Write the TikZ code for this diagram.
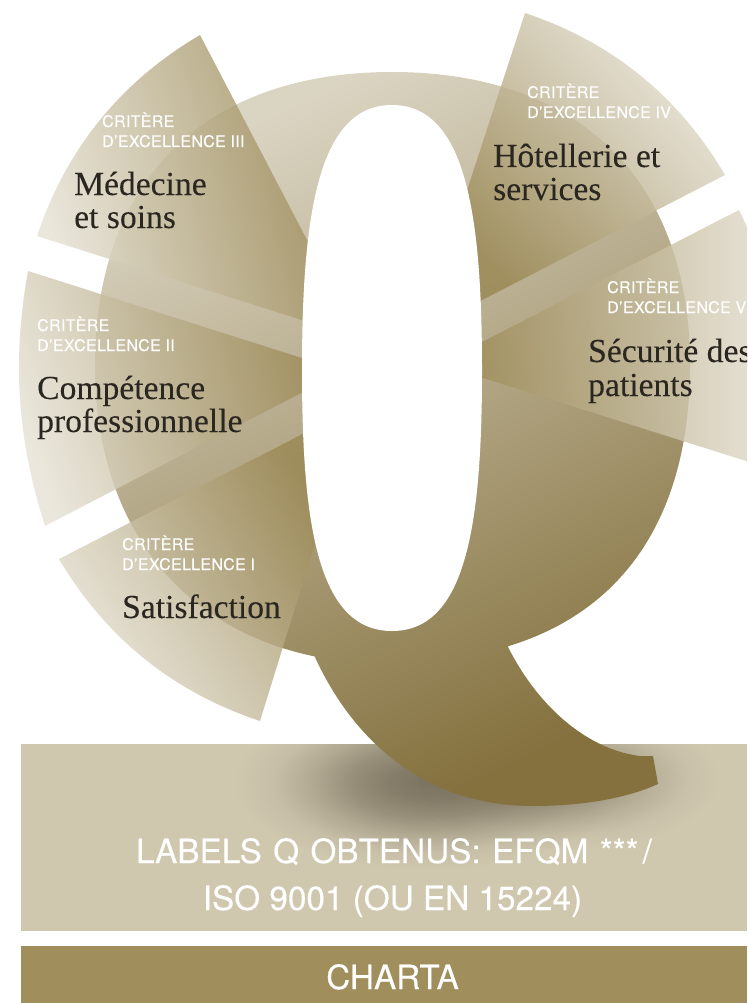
\documentclass[tikz,border=0pt]{standalone}
\usepackage{fontspec}
\usetikzlibrary{fadings}
\newfontfamily\hvfont[LetterSpace=2,FakeBold=.25]{TeX Gyre Heros}
\newfontfamily\hvbig[FakeBold=.25]{TeX Gyre Heros}
\newfontfamily\srffont[FakeBold=.12]{Liberation Serif}
\definecolor{bandlight}{HTML}{CFC7AE}
\definecolor{bandgold}{HTML}{A18E5D}
\definecolor{inkdark}{HTML}{2A2620}
\definecolor{secinner}{HTML}{9A8854}
\definecolor{secouter}{HTML}{E6E2D5}
\definecolor{qlight}{HTML}{DAD4C2}
\definecolor{qmid}{HTML}{A09162}
\definecolor{qdark}{HTML}{84713E}
\definecolor{shadowtone}{HTML}{5F5745}
\pgfdeclareradialshading{blobsh}{\pgfpointorigin}{gray(0bp)=(1);gray(5bp)=(.9);gray(10bp)=(.68);gray(15bp)=(.36);gray(20bp)=(.1);gray(25bp)=(0);gray(50bp)=(0)}
\pgfdeclarefading{blob}{\pgfuseshading{blobsh}}
\tikzset{
  sector/.style={shade,top color=secouter,bottom color=secinner,fill opacity=.82,draw=none},
  smalllabel/.style={anchor=base west,inner sep=0pt,text=white,font=\hvfont\fontsize{16}{20}\selectfont},
  titlelabel/.style={anchor=base west,inner sep=0pt,text=inkdark,font=\srffont\fontsize{33.6}{33}\selectfont},
  banner/.style={anchor=base,inner sep=0pt,text=white,font=\hvbig\fontsize{33.3}{40}\selectfont},
  arcbend/.style={bend left=20.5,looseness=.91}
}
\begin{document}
\begin{tikzpicture}[x=1pt,y=-1pt]
\useasboundingbox (0,0) rectangle (747,1003);
\clip (0,0) rectangle (747,1003);
% bands
\fill[bandlight] (21,744) rectangle (747,931);
\fill[bandgold] (21,946) rectangle (747,1003);
% shadow
\begin{scope}
\clip (21,744) rectangle (747,931);
\fill[shadowtone,path fading=blob,fit fading=true,fill opacity=.72] (235,695) rectangle (620,870);
\fill[shadowtone,path fading=blob,fit fading=true,fill opacity=.5] (400,705) rectangle (720,850);
\end{scope}
% the Q
\shade[top color=qlight,middle color=qmid,bottom color=qdark,shading angle=25]
  (95,365) .. controls (95,180) and (205,72) .. (392,72)
  .. controls (579,72) and (690,180) .. (690,365)
  .. controls (690,550) and (590,662) .. (392,662)
  -- (392,664) .. controls (210,664) and (95,550) .. (95,365) -- cycle
  (320,640) -- (508,630) -- (508,647)
  .. controls (540,710) and (590,750) .. (640,756)
  -- (653,756) -- (658,784)
  .. controls (625,799) and (580,806) .. (533,806)
  .. controls (420,806) and (350,735) .. (314,655) -- cycle;
% sectors
\path[sector,shading angle=108] (37,236) to[arcbend] (200,35) -- (330,284) -- (330,329) -- cycle;
\path[sector,shading angle=110] (45,526) to[arcbend,bend left=14] (28,271) -- (330,367) -- (330,378) -- cycle;
\path[sector,shading angle=122] (260,721) to[arcbend] (59,559) -- (330,420) -- (330,495) -- cycle;
\path[sector,shading angle=-48] (525,13) to[arcbend] (725,175) -- (455,314) -- (455,227) -- cycle;
\path[sector,shading angle=-90] (739,210) to[arcbend] (765,467) -- (455,369) -- (455,356) -- cycle;
% counter of the Q
\fill[white] (392,105) .. controls (318,105) and (302,215) .. (302,370)
  .. controls (302,525) and (318,631) .. (392,631)
  .. controls (466,631) and (482,525) .. (482,370)
  .. controls (482,215) and (466,105) .. (392,105) -- cycle;
% labels
\node[smalllabel] (c3a) at (102,127) {CRITÈRE};
\node[smalllabel] (c3b) at (102,147) {D’EXCELLENCE III};
\node[titlelabel] (t3a) at (74,195) {Médecine};
\node[titlelabel] (t3b) at (74,228) {et soins};
\node[smalllabel] (c2a) at (37,331) {CRITÈRE};
\node[smalllabel] (c2b) at (37,351) {D’EXCELLENCE II};
\node[titlelabel] (t2a) at (37,399) {Compétence};
\node[titlelabel] (t2b) at (37,432) {professionnelle};
\node[smalllabel] (c1a) at (122,550) {CRITÈRE};
\node[smalllabel] (c1b) at (122,570) {D’EXCELLENCE I};
\node[titlelabel] (t1a) at (122,618) {Satisfaction};
\node[smalllabel] (c4a) at (527,98) {CRITÈRE};
\node[smalllabel] (c4b) at (527,118) {D’EXCELLENCE IV};
\node[titlelabel] (t4a) at (493,167) {Hôtellerie et};
\node[titlelabel] (t4b) at (493,200) {services};
\node[smalllabel] (c5a) at (607,293) {CRITÈRE};
\node[smalllabel] (c5b) at (607,313) {D’EXCELLENCE V};
\node[titlelabel] (t5a) at (588,362) {Sécurité des};
\node[titlelabel] (t5b) at (588,396) {patients};
\node[banner] (b1) at (394,863) {\spaceskip=11.4pt LABELS Q OBTENUS: EFQM ***\hspace{4pt}/};
\node[banner] (b2) at (392.5,910) {ISO 9001 (OU EN 15224)};
\node[banner] (b3) at (392.5,989) {CHARTA};
\end{tikzpicture}
\end{document}
